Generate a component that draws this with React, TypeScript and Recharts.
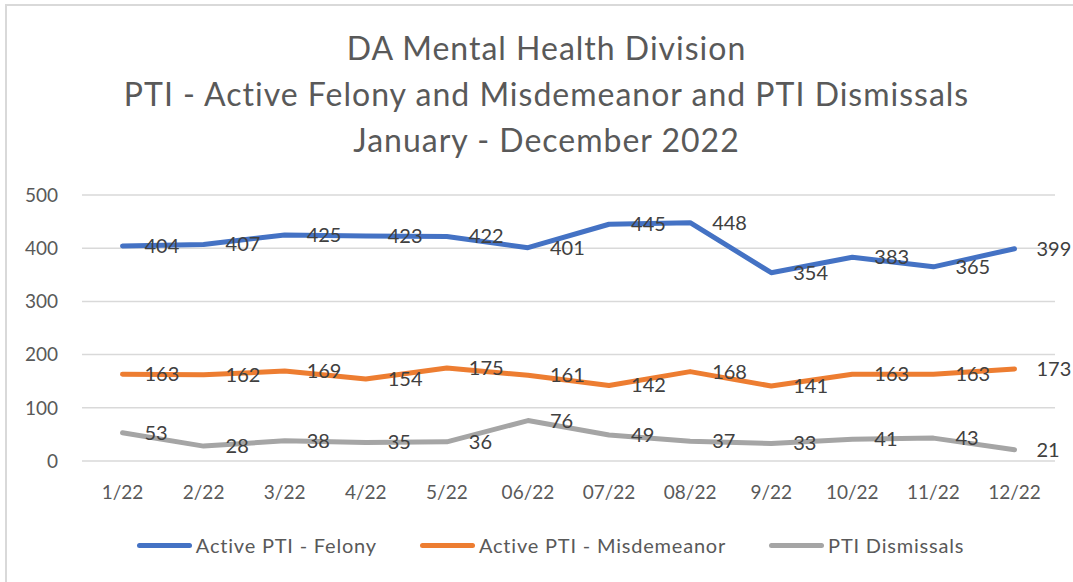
import { LineChart, Line, XAxis, YAxis, CartesianGrid, Legend, LabelList } from 'recharts'

const months = ['1/22', '2/22', '3/22', '4/22', '5/22', '06/22', '07/22', '08/22', '9/22', '10/22', '11/22', '12/22']
const felony = [404, 407, 425, 423, 422, 401, 445, 448, 354, 383, 365, 399]
const misdemeanor = [163, 162, 169, 154, 175, 161, 142, 168, 141, 163, 163, 173]
const dismissals = [53, 28, 38, 35, 36, 76, 49, 37, 33, 41, 43, 21]
const yTicks = [0, 100, 200, 300, 400, 500]
const titleLines = ['DA Mental Health Division', 'PTI - Active Felony and Misdemeanor and PTI Dismissals', 'January - December 2022']

const FONT = 'Lato, "Open Sans", sans-serif'

const series = [
  { key: 'felony', name: 'Active PTI - Felony', color: '#4472C4' },
  { key: 'misdemeanor', name: 'Active PTI - Misdemeanor', color: '#ED7D31' },
  { key: 'dismissals', name: 'PTI Dismissals', color: '#A5A5A5' },
]

const data = months.map((m, i) => ({
  month: m,
  felony: felony[i],
  misdemeanor: misdemeanor[i],
  dismissals: dismissals[i],
}))

// Excel "right" data labels: to the right of the point, vertically centred
const RightLabel = (props: any) => {
  const { x, y, value } = props
  return (
    <text x={x + 22} y={y} dy="0.35em" fill="#404040" fontSize={20} fontFamily={FONT}>
      {value}
    </text>
  )
}

const LegendContent = () => (
  <div style={{ display: 'flex', justifyContent: 'center', gap: 43, fontFamily: FONT, fontSize: 20, letterSpacing: 0.8, color: '#595959', paddingLeft: 36 }}>
    {series.map(s => (
      <div key={s.key} style={{ display: 'flex', alignItems: 'center' }}>
        <span style={{ display: 'inline-block', width: 55, height: 5, borderRadius: 3, background: s.color, marginRight: 4 }} />
        <span>{s.name}</span>
      </div>
    ))}
  </div>
)

export default function App() {
  return (
    <div style={{ position: 'absolute', left: 0, top: 0, width: 1073, height: 582, overflow: 'hidden', background: '#fff' }}>
      <div style={{ position: 'absolute', left: 5, top: 4, width: 1200, height: 700, borderLeft: '2px solid #d9d9d9', borderTop: '2px solid #d9d9d9' }} />
      <div style={{ position: 'absolute', left: 10, top: 25, width: 1073, textAlign: 'center', fontFamily: FONT, fontSize: 32, letterSpacing: 1, lineHeight: '46px', color: '#595959' }}>
        {titleLines.map(t => <div key={t}>{t}</div>)}
      </div>
      <div style={{ position: 'absolute', left: 0, top: 0 }}>
        <LineChart width={1073} height={582} data={data} margin={{ top: 195, right: 18, bottom: 8, left: 10 }}>
          <CartesianGrid vertical={false} stroke="#d9d9d9" strokeWidth={1.5} />
          <XAxis
            dataKey="month"
            axisLine={false}
            tickLine={false}
            tickSize={0}
            tickMargin={25}
            height={72}
            padding={{ left: 40.5, right: 40.5 }}
            tick={{ fill: '#595959', fontSize: 19, fontFamily: FONT }}
            interval={0}
          />
          <YAxis
            domain={[0, 500]}
            ticks={yTicks}
            axisLine={false}
            tickLine={false}
            tickSize={0}
            tickMargin={24}
            width={72}
            tick={{ fill: '#595959', fontSize: 19, fontFamily: FONT }}
          />
          <Legend verticalAlign="bottom" height={41} content={<LegendContent />} />
          {series.map(s => (
            <Line
              key={s.key}
              dataKey={s.key}
              name={s.name}
              type="linear"
              stroke={s.color}
              strokeWidth={5}
              strokeLinecap="round"
              strokeLinejoin="round"
              dot={false}
              isAnimationActive={false}
            >
              <LabelList dataKey={s.key} content={<RightLabel />} />
            </Line>
          ))}
        </LineChart>
      </div>
    </div>
  )
}
